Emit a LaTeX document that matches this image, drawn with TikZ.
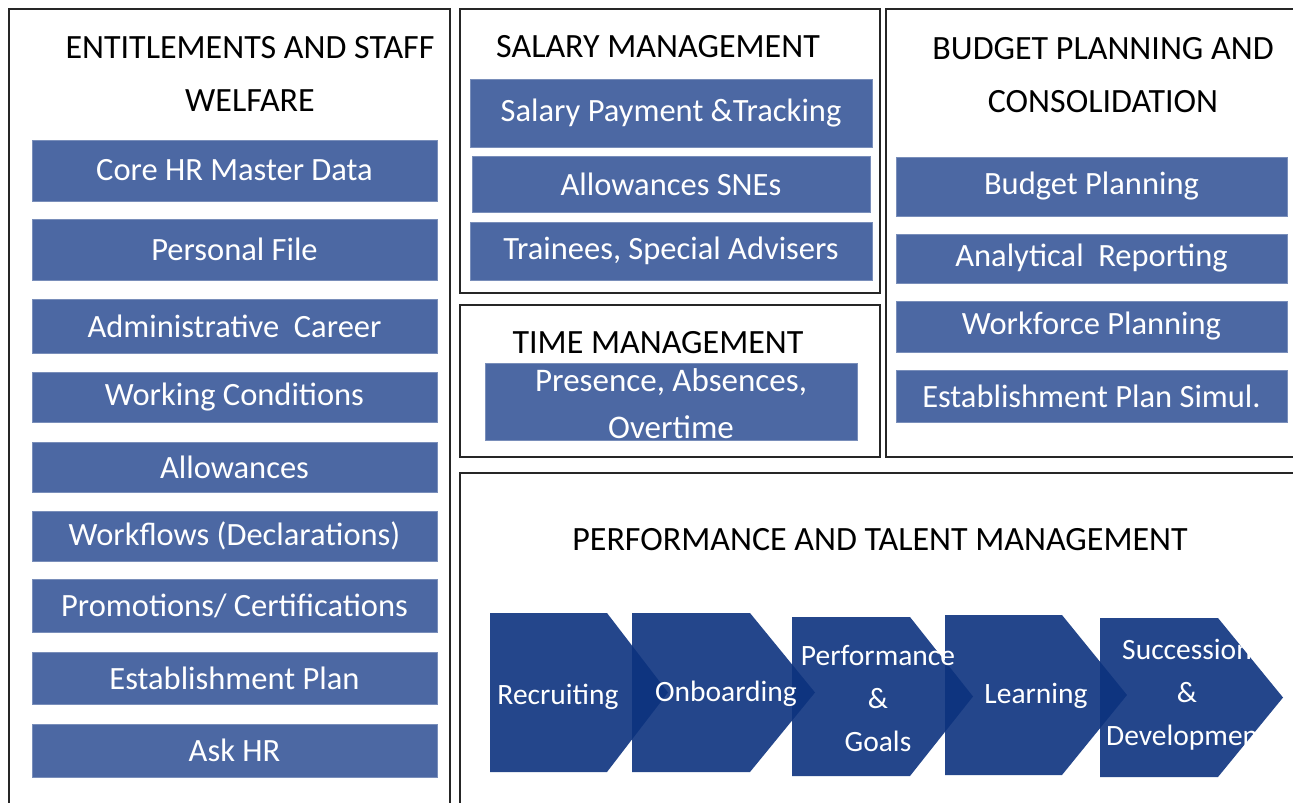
\documentclass[tikz,border=0pt]{standalone}
\usepackage{fontspec}
\setmainfont{Carlito}
\usetikzlibrary{calc}
\definecolor{barblue}{RGB}{76,104,163}
\definecolor{chevblue}{RGB}{12,50,126}
\tikzset{
	panel/.style={draw=black!85, line width=1.8pt},
	bar/.style={fill=barblue, draw=barblue!75!white, line width=0.8pt, text=white, inner sep=0pt, font=\fontsize{32.5}{35}\selectfont},
	title/.style={inner sep=0pt, align=center, font=\fontsize{34}{53}\selectfont},
	chev/.style={fill=chevblue, fill opacity=0.9},
	chevtext/.style={text=white, align=center, inner sep=0pt, font=\fontsize{29.5}{43}\selectfont},
}
% x, top, bottom, shoulder, tip
\def\chevron(#1,#2,#3,#4,#5){\fill[chev] (#1,#2) -- (#4,#2) -- (#5,{(#2+#3)/2}) -- (#4,#3) -- (#1,#3) -- cycle;}
\begin{document}
\begin{tikzpicture}[x=1pt,y=-1pt]
			%%%%% START %%%%%
			\useasboundingbox (0,0) rectangle (1293,803);
			
			% panels
			\draw[panel] (9,803) -- (9,9) -- (450,9) -- (450,803);
			\draw[panel] (460,9) rectangle (880,293);
			\draw[panel] (460,305) rectangle (880,457);
			\draw[panel] (1293,9) -- (886,9) -- (886,457) -- (1293,457);
			\draw[panel] (460,803) -- (460,473) -- (1293,473);
			
			% entitlements and staff welfare
			\node[title] (enttitle) at (250,74) {ENTITLEMENTS AND STAFF\\WELFARE};
			\node[bar, minimum width=405, minimum height=61] (core) at (234.5,170.5) {Core HR Master Data};
			\node[bar, minimum width=405, minimum height=61] (personal) at (234.5,249.5) {Personal File};
			\node[bar, minimum width=405, minimum height=54] (career) at (234.5,326) {Administrative\ \ Career};
			\node[bar, minimum width=405, minimum height=50] (working) at (234.5,397.5) {Working Conditions};
			\node[bar, minimum width=405, minimum height=50] (allow) at (234.5,467) {Allowances};
			\node[bar, minimum width=405, minimum height=50] (workflows) at (234.5,536) {Workflows (Declarations)};
			\node[bar, minimum width=405, minimum height=53] (promo) at (234.5,605.5) {Promotions/ Certifications};
			\node[bar, minimum width=405, minimum height=52] (estab) at (234.5,678) {Establishment Plan};
			\node[bar, minimum width=405, minimum height=53] (askhr) at (234.5,750.5) {Ask HR};
			
			% salary management
			\node[title] (saltitle) at (658,47) {SALARY MANAGEMENT};
			\node[bar, minimum width=402, minimum height=68] (payment) at (671,113) {Salary Payment \&Tracking};
			\node[bar, minimum width=398, minimum height=56] (snes) at (671,184) {Allowances SNEs};
			\node[bar, minimum width=402, minimum height=58] (trainees) at (671,251) {Trainees, Special Advisers};
			
			% time management
			\node[title] (timetitle) at (658,343) {TIME MANAGEMENT};
			\node[bar, minimum width=372, minimum height=77] (presence) at (671,401.5) {};
			\node[bar, draw=none, fill=none, align=center, font=\fontsize{33}{47}\selectfont] (presencetext) at (671,404) {Presence, Absences,\\Overtime};
			
			% budget planning and consolidation
			\node[title] (budtitle) at (1103,75) {BUDGET PLANNING AND\\CONSOLIDATION};
			\node[bar, minimum width=391, minimum height=59] (budget) at (1091.5,186.5) {Budget Planning};
			\node[bar, minimum width=391, minimum height=49] (analytic) at (1091.5,258.5) {Analytical\ \ Reporting};
			\node[bar, minimum width=391, minimum height=51] (workforce) at (1091.5,326.5) {Workforce Planning};
			\node[bar, minimum width=391, minimum height=52] (simul) at (1091.5,396) {Establishment Plan Simul.};
			
			% performance and talent management
			\node[title] (perftitle) at (880,540) {PERFORMANCE AND TALENT MANAGEMENT};
			
			\chevron(490,613,772,607,668)
			\chevron(632,613,772,750,815)
			\chevron(792,617,776,910,973)
			\chevron(945,615,775,1062,1127)
			\chevron(1100,618,777,1218,1283)
			
			\node[chevtext] (recruit) at (558,697) {Recruiting};
			\node[chevtext] (onboard) at (726,694) {Onboarding};
			\node[chevtext] (perfgoals) at (878,698) {Performance\\\&\\Goals};
			\node[chevtext] (learn) at (1036,696) {Learning};
			\node[chevtext] (success) at (1187,695) {Succession\\\&\\Development};
			
			%%%%% END %%%%%
		\end{tikzpicture}
\end{document}
